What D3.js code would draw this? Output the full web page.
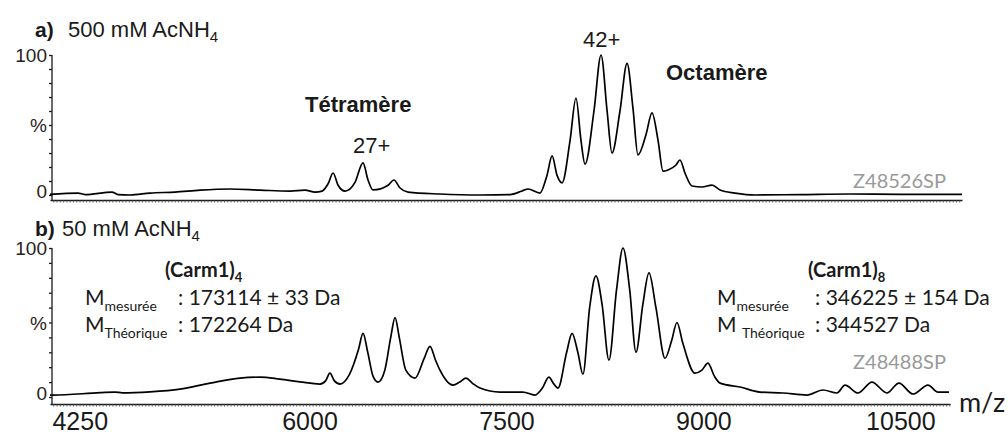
<!DOCTYPE html>
<html>
<head>
<meta charset="utf-8">
<script src="https://cdn.jsdelivr.net/npm/d3@7"></script>
<style>
  body { margin: 0; background: #fff; }
  svg { display: block; }
</style>
</head>
<body>
<div id="chart"></div>
<script>
// spectrum a) 500 mM AcNH4 : m/z and relative intensity (%)
const topMz = [4050, 4264, 4317, 4522, 4568, 4660, 4812, 5002, 5193, 5421, 5650, 5878, 5992, 6069, 6122,
  6168, 6206, 6244, 6297, 6373, 6434, 6472, 6510, 6625, 6670, 6716, 6777, 7020, 7325, 7554, 7645, 7691,
  7782, 7835, 7874, 7912, 7950, 8011, 8056, 8094, 8125, 8193, 8247, 8293, 8330, 8391, 8445, 8490, 8528,
  8589, 8635, 8681, 8719, 8757, 8818, 8848, 8886, 8940, 9016, 9092, 9153, 9267, 9420, 9762, 10143, 10524, 10996];
const topPct = [0.5, 1.4, 0.3, 2.1, 0.3, 0, 1.4, 2.1, 3.5, 4.3, 3.5, 2.8, 3.5, 2.1, 2.8,
  8, 15.7, 7, 2.8, 9, 22.9, 10.7, 3.6, 7, 10.7, 5, 2.1, 0.7, 0, 0.3, 2.9, 4.3,
  1.4, 14, 27.9, 14, 8.6, 39, 69.3, 39, 22, 60, 100, 60, 30, 60, 94, 62, 28.6,
  43, 58.6, 39, 17, 17.9, 21.4, 25, 15.7, 6.4, 5.7, 7.1, 3.6, 1.4, 0, 0.3, 0.7, 0.5, 0.5];

// spectrum b) 50 mM AcNH4
const botMz = [4050, 4073, 4431, 4545, 4600, 4812, 5040, 5269, 5497, 5649, 5800, 5954, 6106, 6150, 6182,
  6215, 6259, 6330, 6400, 6434, 6470, 6510, 6548, 6600, 6645, 6678, 6710, 6760, 6830, 6900, 6944, 6985,
  7020, 7119, 7170, 7218, 7270, 7325, 7477, 7652, 7744, 7800, 7850, 7885, 7919, 7985, 8026, 8070, 8109,
  8160, 8208, 8255, 8307, 8365, 8414, 8465, 8513, 8565, 8612, 8665, 8734, 8785, 8825, 8870, 8962, 9015,
  9061, 9110, 9153, 9305, 9457, 9632, 9815, 9937, 10044, 10105, 10204, 10310, 10424, 10516, 10623, 10737,
  10813, 10897];
const botPct = [1.3, 1.3, 2.9, 3.3, 2.8, 3.5, 5.3, 9.3, 12.7, 13.3, 12, 10.2, 8.7, 11, 16,
  11, 8.7, 15, 32, 42.7, 30, 14, 10, 18, 40, 53.3, 40, 18, 12.7, 26, 34, 25,
  18, 8, 10, 12.7, 9, 6, 3.3, 3.3, 1.3, 6, 13.3, 9, 6, 30, 42.7, 30, 15.3,
  60, 81.3, 62, 24.7, 72, 100, 72, 30, 62, 83.3, 60, 26, 38, 50, 36, 16, 18,
  22.7, 14, 9.3, 6.7, 3.3, 2.7, 1.3, 4.7, 2.7, 8, 2.7, 10, 2.7, 9.3, 2, 8,
  3.3, 3.3];

const xTickLabels = [4250, 6000, 7500, 9000, 10500];
const yTicks = [0, 10, 20, 30, 40, 50, 60, 70, 80, 90, 100];
const yLabels = [[100, "100"], [50, "%"], [0, "0"]];

const width = 1008, height = 436;
const arial = "'Liberation Sans', Arial, sans-serif";
const calibri = "Lato, 'Open Sans', sans-serif";
const ink = "#1a1a1a";

const svg = d3.select("#chart").append("svg")
  .attr("width", width).attr("height", height);

const x = d3.scaleLinear().domain([4050, 10996]).range([50, 962]);

// one spectrum panel
const drawPanel = (mz, pct, yTop, yZero, axisY, xEnd) => {
  const y = d3.scaleLinear().domain([0, 100]).range([yZero, yTop]);
  const g = svg.append("g");

  // y axis
  g.append("g")
    .attr("transform", "translate(52,0)")
    .call(d3.axisLeft(y).tickValues(yTicks).tickSize(3).tickSizeOuter(0).tickFormat(""))
    .call(a => a.select(".domain").attr("d", `M0,${yTop}V${axisY}`))
    .call(a => a.selectAll("line,path").attr("stroke", ink).attr("stroke-width", 1.3));

  // x axis, many small ticks
  const xa = d3.scaleLinear().domain([4050, x.invert(xEnd)]).range([50, xEnd]);
  g.append("g")
    .attr("transform", `translate(0,${axisY})`)
    .call(d3.axisBottom(xa).tickValues(d3.range(4075, x.invert(xEnd), 25)).tickSize(2.5).tickSizeOuter(0).tickFormat(""))
    .call(a => a.selectAll("line").attr("stroke", "#444").attr("stroke-width", 0.8))
    .call(a => a.select(".domain").attr("stroke", ink).attr("stroke-width", 1.3));

  yLabels.forEach(([v, t]) => {
    g.append("text")
      .attr("x", 47).attr("y", y(v) + (v === 0 ? -2 : 2))
      .attr("text-anchor", "end").attr("dominant-baseline", "middle")
      .attr("font-family", arial).attr("font-size", 19).attr("fill", "#2a2218")
      .text(t);
  });

  const line = d3.line()
    .x((d, i) => x(mz[i]))
    .y(d => y(d))
    .curve(d3.curveMonotoneX);

  g.append("path")
    .datum(pct)
    .attr("d", line)
    .attr("fill", "none")
    .attr("stroke", "#000")
    .attr("stroke-width", 1.7)
    .attr("stroke-linejoin", "round");

  return y;
};

drawPanel(topMz, topPct, 55, 195, 200, 962);
drawPanel(botMz, botPct, 248, 397, 404, 950);

// bottom tick labels
xTickLabels.forEach(v => {
  svg.append("text")
    .attr("x", x(v) + 4).attr("y", 430)
    .attr("text-anchor", "middle")
    .attr("font-family", arial).attr("font-size", 25).attr("fill", ink)
    .text(v);
});

svg.append("text")
  .attr("x", 982).attr("y", 412)
  .attr("text-anchor", "middle")
  .attr("font-family", calibri).attr("font-size", 27).attr("fill", ink)
  .text("m/z");

// panel titles
const title = (lab, txt, xl, xt, yb) => {
  svg.append("text").attr("x", xl).attr("y", yb)
    .attr("font-family", arial).attr("font-size", 21).attr("font-weight", "bold").attr("fill", ink)
    .text(lab);
  const t = svg.append("text").attr("x", xt).attr("y", yb)
    .attr("font-family", arial).attr("font-size", 22).attr("fill", ink);
  t.append("tspan").text(txt);
  t.append("tspan").attr("dy", 5).attr("font-size", 15).text("4");
};
title("a)", "500 mM AcNH", 35, 68, 37);
title("b)", "50 mM AcNH", 35, 62, 236);

// top annotations
const plain = (txt, xp, yp, size, weight, fill, font) =>
  svg.append("text").attr("x", xp).attr("y", yp)
    .attr("font-family", font || arial).attr("font-size", size)
    .attr("font-weight", weight || "normal").attr("fill", fill || ink)
    .text(txt);

plain("Tétramère", 305, 112, 22, "bold");
plain("27+", 353, 153, 22);
plain("42+", 583, 47, 22);
plain("Octamère", 666, 80, 22, "bold");
plain("Z48526SP", 853, 188, 20, "normal", "#999", calibri);
plain("Z48488SP", 853, 369, 20, "normal", "#999", calibri);

// mass boxes
const massBlock = (name, sub, x0, xName, xColon, sep, meas, theo) => {
  const n = svg.append("text").attr("x", xName).attr("y", 277)
    .attr("font-family", calibri).attr("font-size", 20).attr("font-weight", "bold").attr("fill", ink);
  n.append("tspan").text(name);
  n.append("tspan").attr("dy", 5).attr("font-size", 13).text(sub);

  const m1 = svg.append("text").attr("x", x0).attr("y", 305)
    .attr("font-family", calibri).attr("font-size", 21).attr("fill", ink);
  m1.append("tspan").text("M");
  m1.append("tspan").attr("dy", 6).attr("font-size", 14).text("mesurée");
  svg.append("text").attr("x", xColon).attr("y", 305)
    .attr("font-family", calibri).attr("font-size", 21).attr("fill", ink).text(meas);

  const m2 = svg.append("text").attr("x", x0).attr("y", 332)
    .attr("font-family", calibri).attr("font-size", 21).attr("fill", ink);
  m2.append("tspan").text("M" + sep);
  m2.append("tspan").attr("dy", 6).attr("font-size", 14).text("Théorique");
  svg.append("text").attr("x", xColon).attr("y", 332)
    .attr("font-family", calibri).attr("font-size", 21).attr("fill", ink).text(theo);
};
massBlock("(Carm1)", "4", 85, 165, 178, "", ": 173114 ± 33 Da", ": 172264 Da");
massBlock("(Carm1)", "8", 717, 808, 815, " ", ": 346225 ± 154 Da", ": 344527 Da");
</script>
</body>
</html>
